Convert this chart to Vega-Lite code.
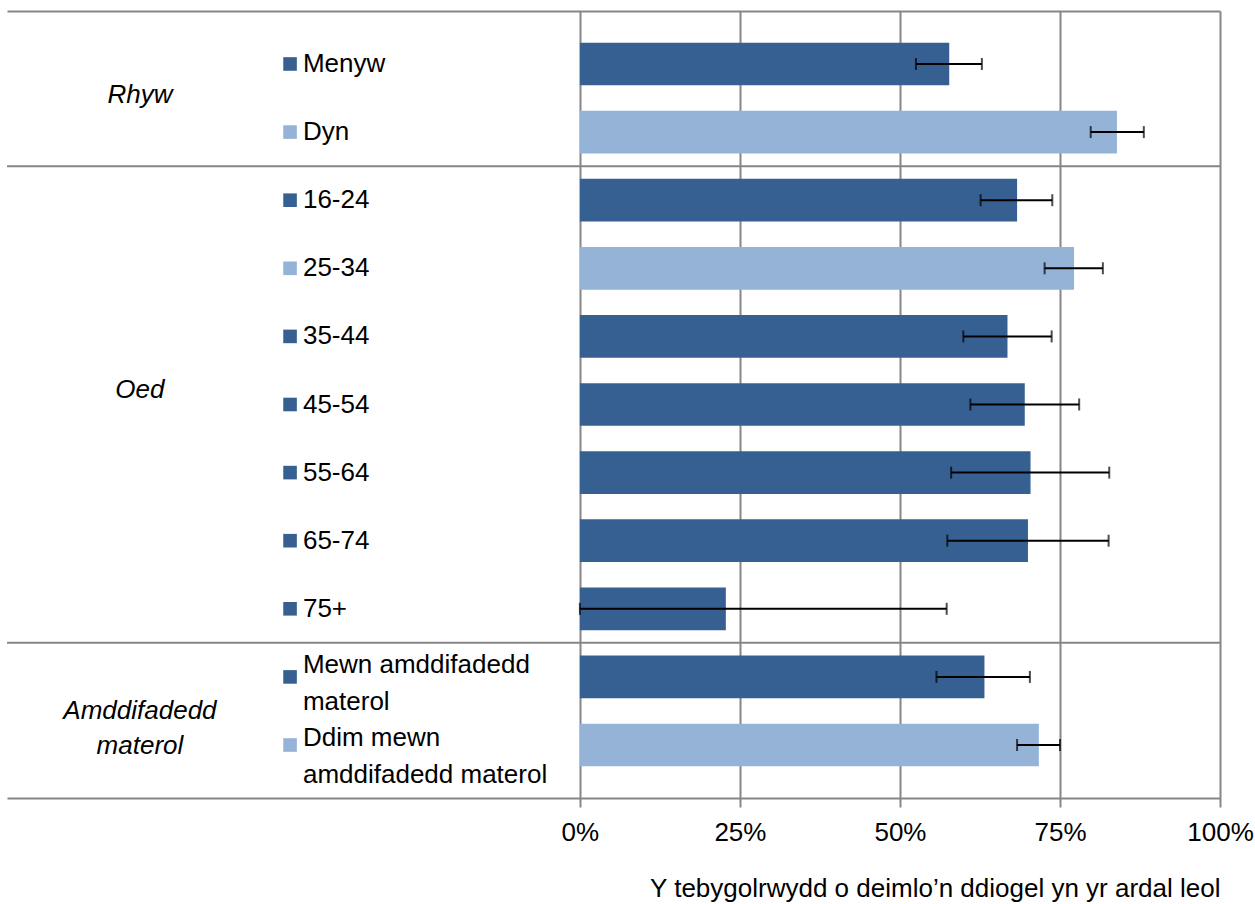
{
  "$schema": "https://vega.github.io/schema/vega-lite/v6.json",
  "width": 1213,
  "height": 787,
  "autosize": {"type": "none"},
  "padding": {"left": 7, "top": 11, "right": 35, "bottom": 106},
  "background": "white",
  "config": {"view": {"stroke": null}, "font": "Liberation Sans"},
  "datasets": {
    "rows": [
      {"group": "Rhyw", "cat": "Menyw", "series": "A", "value": 0.577, "lo": 0.525, "hi": 0.628},
      {"group": "Rhyw", "cat": "Dyn", "series": "B", "value": 0.839, "lo": 0.798, "hi": 0.881},
      {"group": "Oed", "cat": "16-24", "series": "A", "value": 0.683, "lo": 0.626, "hi": 0.738},
      {"group": "Oed", "cat": "25-34", "series": "B", "value": 0.772, "lo": 0.726, "hi": 0.817},
      {"group": "Oed", "cat": "35-44", "series": "A", "value": 0.668, "lo": 0.599, "hi": 0.737},
      {"group": "Oed", "cat": "45-54", "series": "A", "value": 0.695, "lo": 0.610, "hi": 0.780},
      {"group": "Oed", "cat": "55-64", "series": "A", "value": 0.704, "lo": 0.580, "hi": 0.827},
      {"group": "Oed", "cat": "65-74", "series": "A", "value": 0.700, "lo": 0.574, "hi": 0.826},
      {"group": "Oed", "cat": "75+", "series": "A", "value": 0.228, "lo": 0.0, "hi": 0.573},
      {"group": "Amddifadedd materol", "cat": "Mewn amddifadedd\nmaterol", "series": "A", "value": 0.632, "lo": 0.557, "hi": 0.703},
      {"group": "Amddifadedd materol", "cat": "Ddim mewn\namddifadedd materol", "series": "B", "value": 0.717, "lo": 0.683, "hi": 0.750}
    ],
    "groups": [
      {"group": "Rhyw", "anchor": "Menyw"},
      {"group": "Oed", "anchor": "45-54"},
      {"group": "Amddifadedd\nmaterol", "anchor": "Mewn amddifadedd\nmaterol"}
    ],
    "seps": [
      {"after": "Dyn"},
      {"after": "75+"}
    ]
  },
  "layer": [
    {
      "data": {"name": "rows"},
      "mark": {"type": "bar", "height": {"band": 0.627}},
      "encoding": {
        "y": {
          "field": "cat", "type": "nominal", "sort": null, "axis": null,
          "scale": {
            "domain": ["Menyw", "Dyn", "16-24", "25-34", "35-44", "45-54", "55-64", "65-74", "75+", "Mewn amddifadedd\nmaterol", "Ddim mewn\namddifadedd materol"],
            "paddingInner": 0, "paddingOuter": 0.278
          }
        },
        "x": {
          "field": "value", "type": "quantitative",
          "scale": {"domain": [-0.895, 1], "nice": false, "zero": false},
          "axis": {
            "orient": "bottom",
            "values": [0, 0.25, 0.5, 0.75, 1],
            "format": ".0%",
            "grid": true, "gridColor": "#868686", "gridWidth": 2,
            "domain": true, "domainColor": "#868686", "domainWidth": 2,
            "ticks": true, "tickColor": "#868686", "tickWidth": 2, "tickSize": 9,
            "labelFont": "Liberation Sans", "labelFontSize": 26, "labelColor": "#000000", "labelPadding": 12, "labelFlush": false, "labelOverlap": false,
            "title": "Y tebygolrwydd o deimlo’n ddiogel yn yr ardal leol",
            "titleFont": "Liberation Sans", "titleFontSize": 26, "titleFontWeight": "normal", "titleColor": "#000000", "titleAnchor": "end", "titlePadding": 30
          }
        },
        "x2": {"datum": 0},
        "color": {"field": "series", "type": "nominal", "scale": {"domain": ["A", "B"], "range": ["#376092", "#95B3D7"]}, "legend": null}
      }
    },
    {
      "data": {"name": "rows"},
      "mark": {"type": "rule", "color": "#000000", "strokeWidth": 2},
      "encoding": {
        "y": {"field": "cat", "type": "nominal", "sort": null},
        "x": {
          "field": "lo", "type": "quantitative",
          "axis": {"orient": "top", "labels": false, "ticks": false, "grid": false, "domain": true, "domainColor": "#868686", "domainWidth": 2, "title": null}
        },
        "x2": {"field": "hi"}
      }
    },
    {
      "data": {"name": "rows"},
      "mark": {"type": "tick", "orient": "vertical", "size": 12, "thickness": 2, "color": "#000000"},
      "encoding": {
        "y": {"field": "cat", "type": "nominal", "sort": null},
        "x": {"field": "lo", "type": "quantitative", "axis": null}
      }
    },
    {
      "data": {"name": "rows"},
      "mark": {"type": "tick", "orient": "vertical", "size": 12, "thickness": 2, "color": "#000000"},
      "encoding": {
        "y": {"field": "cat", "type": "nominal", "sort": null},
        "x": {"field": "hi", "type": "quantitative", "axis": null}
      }
    },
    {
      "data": {"name": "seps"},
      "mark": {"type": "rule", "color": "#868686", "strokeWidth": 2},
      "encoding": {
        "y": {"field": "after", "type": "nominal", "sort": null, "bandPosition": 1}
      }
    },
    {
      "data": {"name": "rows"},
      "mark": {"type": "square", "size": 185, "opacity": 1, "filled": true},
      "encoding": {
        "y": {"field": "cat", "type": "nominal", "sort": null},
        "x": {"datum": -0.4528, "type": "quantitative", "axis": null},
        "color": {"field": "series", "type": "nominal", "legend": null}
      }
    },
    {
      "data": {"name": "rows"},
      "transform": [{"filter": {"field": "group", "oneOf": ["Rhyw", "Oed"]}}],
      "mark": {"type": "text", "align": "left", "baseline": "middle", "font": "Liberation Sans", "fontSize": 26, "color": "#000000"},
      "encoding": {
        "y": {"field": "cat", "type": "nominal", "sort": null},
        "x": {"datum": -0.4327, "type": "quantitative", "axis": null},
        "text": {"field": "cat"}
      }
    },
    {
      "data": {"name": "rows"},
      "transform": [{"filter": {"field": "cat", "equal": "Mewn amddifadedd\nmaterol"}}],
      "mark": {"type": "text", "align": "left", "baseline": "middle", "font": "Liberation Sans", "fontSize": 26, "lineBreak": "\n", "lineHeight": 37, "dy": -12, "color": "#000000"},
      "encoding": {
        "y": {"field": "cat", "type": "nominal", "sort": null},
        "x": {"datum": -0.4327, "type": "quantitative", "axis": null},
        "text": {"field": "cat"}
      }
    },
    {
      "data": {"name": "rows"},
      "transform": [{"filter": {"field": "cat", "equal": "Ddim mewn\namddifadedd materol"}}],
      "mark": {"type": "text", "align": "left", "baseline": "middle", "font": "Liberation Sans", "fontSize": 26, "lineBreak": "\n", "lineHeight": 37, "dy": -7, "color": "#000000"},
      "encoding": {
        "y": {"field": "cat", "type": "nominal", "sort": null},
        "x": {"datum": -0.4327, "type": "quantitative", "axis": null},
        "text": {"field": "cat"}
      }
    },
    {
      "data": {"name": "groups"},
      "transform": [{"filter": {"field": "group", "equal": "Rhyw"}}],
      "mark": {"type": "text", "align": "center", "baseline": "middle", "font": "Liberation Sans", "fontSize": 26, "fontStyle": "italic", "dy": -3, "color": "#000000"},
      "encoding": {
        "y": {"field": "anchor", "type": "nominal", "sort": null, "bandPosition": 1},
        "x": {"datum": -0.6873, "type": "quantitative", "axis": null},
        "text": {"field": "group"}
      }
    },
    {
      "data": {"name": "groups"},
      "transform": [{"filter": {"field": "group", "equal": "Oed"}}],
      "mark": {"type": "text", "align": "center", "baseline": "middle", "font": "Liberation Sans", "fontSize": 26, "fontStyle": "italic", "dy": -15, "color": "#000000"},
      "encoding": {
        "y": {"field": "anchor", "type": "nominal", "sort": null},
        "x": {"datum": -0.6873, "type": "quantitative", "axis": null},
        "text": {"field": "group"}
      }
    },
    {
      "data": {"name": "groups"},
      "transform": [{"filter": {"field": "group", "equal": "Amddifadedd\nmaterol"}}],
      "mark": {"type": "text", "align": "center", "baseline": "middle", "font": "Liberation Sans", "fontSize": 26, "fontStyle": "italic", "lineBreak": "\n", "lineHeight": 35, "dy": 0, "color": "#000000"},
      "encoding": {
        "y": {"field": "anchor", "type": "nominal", "sort": null, "bandPosition": 1},
        "x": {"datum": -0.6873, "type": "quantitative", "axis": null},
        "text": {"field": "group"}
      }
    }
  ],
  "resolve": {"axis": {"x": "independent"}}
}
